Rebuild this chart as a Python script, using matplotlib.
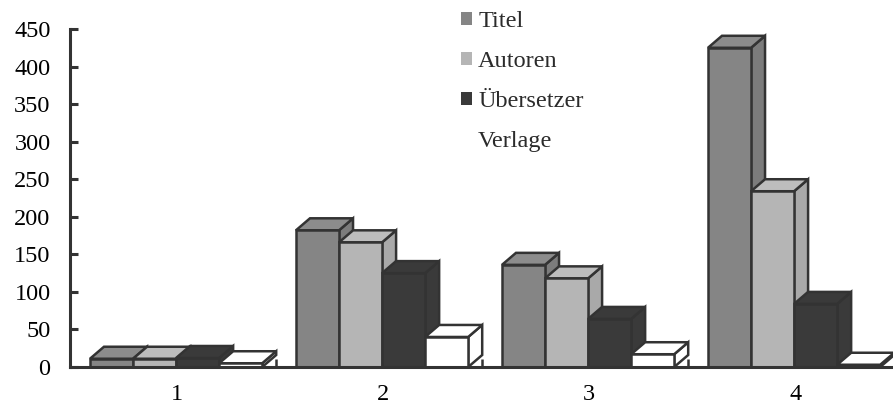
import matplotlib.pyplot as plt
from matplotlib.patches import Polygon, Rectangle, Patch

# data
categories = ['1', '2', '3', '4']
series = ['Titel', 'Autoren', 'Übersetzer', 'Verlage']
titel = [11, 182, 136, 425]
autoren = [11, 166, 118, 234]
uebersetzer = [12, 125, 64, 84]
verlage = [5, 40, 17, 3]

# front / side / top shades for each series
front_colors = ['#858585', '#b5b5b5', '#3a3a3a', '#ffffff']
side_colors = ['#7c7c7c', '#a9a9a9', '#3a3a3a', '#ffffff']
top_colors = ['#8c8c8c', '#bdbdbd', '#3a3a3a', '#ffffff']
edge = '#333333'

plt.rcParams['font.family'] = ['Liberation Serif', 'DejaVu Serif']
plt.rcParams['font.size'] = 17.5
plt.rcParams['text.color'] = '#2b2b2b'

W, H = 893, 405
fig = plt.figure(figsize=(W / 100, H / 100), dpi=100)
ax = fig.add_axes([70 / W, 38 / H, 824 / W, 338 / H])

xmin, xmax = 0.5, 4.5
ymin, ymax = 0, 450
ax.set_xlim(xmin, xmax)
ax.set_ylim(ymin, ymax)

# depth of the fake 3d boxes, in pixels -> data units
depth_px_x, depth_px_y = 14, 12
dx = depth_px_x * (xmax - xmin) / 824
dy = depth_px_y * (ymax - ymin) / 338

bar_w = 0.209
values = [titel, autoren, uebersetzer, verlage]
lw = 1.8
z = 2
for i in range(len(categories)):
    center = i + 1.015
    for k in range(len(series)):
        h = values[k][i]
        x0 = center + (k - 2) * bar_w
        x1 = x0 + bar_w
        front = Rectangle((x0, 0), bar_w, h, facecolor=front_colors[k],
                          edgecolor=edge, linewidth=lw, zorder=z)
        side = Polygon([(x1, 0), (x1 + dx, dy), (x1 + dx, h + dy), (x1, h)],
                       closed=True, facecolor=side_colors[k],
                       edgecolor=edge, linewidth=lw, zorder=z)
        top = Polygon([(x0, h), (x1, h), (x1 + dx, h + dy), (x0 + dx, h + dy)],
                      closed=True, facecolor=top_colors[k],
                      edgecolor=edge, linewidth=lw, zorder=z)
        ax.add_patch(side)
        ax.add_patch(top)
        ax.add_patch(front)
        z += 1

# axes styling
for s in ['top', 'right']:
    ax.spines[s].set_visible(False)
for s in ['left', 'bottom']:
    ax.spines[s].set_linewidth(2.2)
    ax.spines[s].set_color('#333333')
    ax.spines[s].set_zorder(100)

ax.set_yticks(range(0, 451, 50))
ax.tick_params(axis='y', direction='in', length=6, width=2.2, color='#333333',
               pad=14, labelsize=17.5)

# ticks between the groups, labels at the group centres
ax.set_xticks([1.5, 2.5, 3.5])
ax.set_xticklabels([])
ax.tick_params(axis='x', which='major', direction='in', length=6, width=1.8,
               color='#333333')
ax.set_xticks([1.02, 2.02, 3.02, 4.02], minor=True)
ax.set_xticklabels(categories, minor=True)
ax.tick_params(axis='x', which='minor', length=0, pad=12, labelsize=17.5)

handles = [Patch(facecolor=front_colors[k], edgecolor='none') for k in range(len(series))]
leg = fig.legend(handles, series, loc='upper left',
                 bbox_to_anchor=(449 / W, 1 + 1 / H), frameon=False,
                 handlelength=0.45, handleheight=0.45, handletextpad=0.25,
                 labelspacing=0.78, borderpad=0, fontsize=17.5)

fig.savefig('out.png', dpi=100)
